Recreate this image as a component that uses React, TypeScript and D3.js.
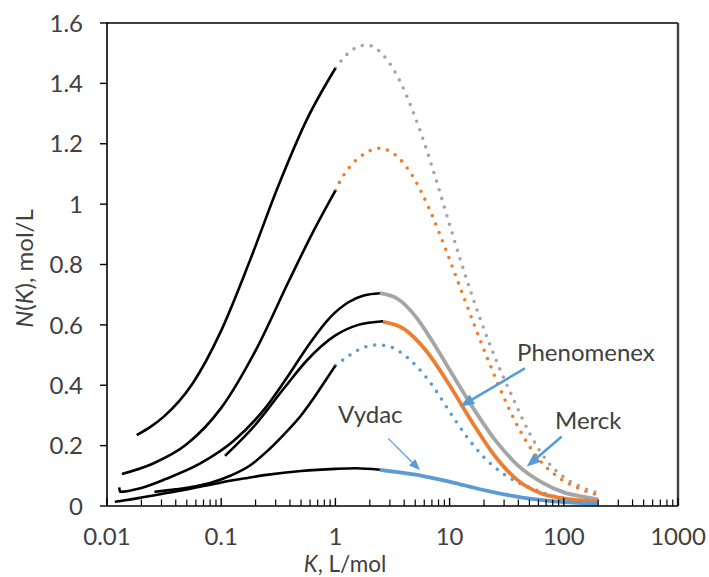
import React from "react";
import * as d3 from "d3";

type P = [number, number];

// black (measured) segments
const curveA: P[] = [[0.0182,0.235],[0.024,0.262],[0.0316,0.297],[0.0562,0.406],[0.1,0.581],[0.178,0.812],[0.316,1.06],[0.562,1.28],[1,1.45]];
const curveB: P[] = [[0.0135,0.106],[0.0251,0.14],[0.0501,0.205],[0.1,0.325],[0.2,0.515],[0.398,0.751],[0.631,0.905],[1,1.045]];
const curveC: P[] = [[0.0128,0.062],[0.013,0.047],[0.02,0.06],[0.033,0.09],[0.065,0.14],[0.128,0.215],[0.25,0.33],[0.4,0.44],[0.6,0.54],[0.9,0.625],[1.3,0.675],[1.8,0.698],[2.45,0.705]];
const curveD: P[] = [[0.108,0.166],[0.2,0.27],[0.355,0.39],[0.562,0.482],[1,0.565],[1.585,0.6],[2.62,0.612]];
const curveF: P[] = [[0.026,0.047],[0.04,0.055],[0.06,0.065],[0.08,0.076],[0.12,0.1],[0.18,0.135],[0.25,0.18],[0.35,0.235],[0.5,0.3],[0.64,0.355],[0.8,0.41],[1.0,0.465]];
const curveE: P[] = [[0.0117,0.014],[0.015,0.02],[0.02,0.028],[0.03,0.04],[0.047,0.053],[0.07,0.066],[0.1,0.078],[0.17,0.093],[0.25,0.103],[0.5,0.116],[1,0.123],[1.5,0.125],[2.45,0.12]];

// fitted extensions
const grayDotted: P[] = [[1,1.45],[1.34,1.505],[1.88,1.527],[2.62,1.494],[3.3,1.44],[3.9,1.387],[4.6,1.322],[5.4,1.253],[6.2,1.187],[7,1.125],[7.95,1.058],[8.9,0.996],[10.1,0.927],[11.3,0.866],[12.7,0.804],[14.3,0.744],[18.5,0.621],[26,0.476],[36.4,0.352],[50.6,0.238],[70.9,0.15],[105,0.09],[146,0.061],[200,0.043]];
const orangeDotted: P[] = [[1,1.045],[1.06,1.065],[1.34,1.124],[1.82,1.168],[2.4,1.185],[3.65,1.15],[4.67,1.097],[5.7,1.038],[6.7,0.981],[7.9,0.916],[9.1,0.857],[10.5,0.795],[12,0.737],[16.1,0.609],[22.7,0.466],[31.6,0.339],[44,0.232],[61.8,0.151],[92,0.092],[138,0.057],[200,0.036]];
const blueDotted: P[] = [[1,0.465],[1.3,0.497],[1.6,0.518],[2.24,0.533],[2.7,0.532],[3.65,0.511],[5.2,0.461],[7.2,0.395],[10.1,0.31],[14.1,0.23],[19.8,0.163],[27.8,0.114],[38.7,0.08],[54,0.057],[75,0.036],[105,0.025],[200,0.011]];
const graySolid: P[] = [[2.45,0.705],[3.55,0.685],[5.01,0.629],[7.08,0.545],[10,0.451],[15.85,0.328],[25.1,0.218],[39.8,0.134],[63.1,0.08],[100,0.045],[150,0.03],[200,0.022]];
const orangeSolid: P[] = [[2.62,0.61],[3.98,0.587],[6.31,0.512],[10,0.4],[15.85,0.276],[25.1,0.164],[39.8,0.084],[63,0.042],[100,0.025],[200,0.0145]];
const blueSolid: P[] = [[2.45,0.12],[5.2,0.103],[10.1,0.08],[19.8,0.053],[38.7,0.031],[75,0.017],[200,0.007]];

const xTickValues = [0.01, 0.1, 1, 10, 100, 1000];
const xTickLabels = ["0.01", "0.1", "1", "10", "100", "1000"];
const yTickValues = [0, 0.2, 0.4, 0.6, 0.8, 1, 1.2, 1.4, 1.6];
const yTickLabels = ["0", "0.2", "0.4", "0.6", "0.8", "1", "1.2", "1.4", "1.6"];

// annotations (data coordinates)
const annLabels = ["Phenomenex", "Merck", "Vydac"];
const annText: P[] = [[39, 0.48], [83.8, 0.255], [1.054, 0.275]];
const annTail: P[] = [[45.7, 0.456], [95.9, 0.23], [2.9, 0.224]];
const annTip: P[] = [[12.4, 0.33], [47.3, 0.13], [5.5, 0.119]];
const annWidth = [2.6, 2.6, 1.3];

const GRAY = "#A5A5A5";
const ORANGE = "#ED7D31";
const BLUE = "#5B9BD5";
const TEXT = "#404040";
const FONT = "Lato, 'Open Sans', sans-serif";

export default function App() {
  const W = 709, H = 577;
  const left = 107, right = 678, top = 23, bottom = 506;
  const x = d3.scaleLog().domain([0.01, 1000]).range([left, right]);
  const y = d3.scaleLinear().domain([0, 1.6]).range([bottom, top]);
  const line = d3.line<P>().x(d => x(d[0])).y(d => y(d[1])).curve(d3.curveMonotoneX);

  const minorTicks: number[] = [];
  for (let dec = -2; dec < 3; dec++) {
    for (let m = 2; m <= 9; m++) minorTicks.push(m * Math.pow(10, dec));
  }

  const blacks = [curveA, curveB, curveC, curveD, curveF, curveE];
  const dotted: [P[], string][] = [[grayDotted, GRAY], [orangeDotted, ORANGE], [blueDotted, BLUE]];
  const solids: [P[], string][] = [[graySolid, GRAY], [orangeSolid, ORANGE], [blueSolid, BLUE]];

  return (
    <div style={{ position: "absolute", left: 0, top: 0 }}>
      <svg width={W} height={H} viewBox={`0 0 ${W} ${H}`} style={{ display: "block", background: "#fff" }} fontFamily={FONT}>
        <rect x={0} y={0} width={W} height={H} fill="#fff" />
        <line x1={left} x2={right} y1={top} y2={top} stroke="#404040" strokeWidth={1.8} />
        <line x1={right} x2={right} y1={top} y2={bottom} stroke="#404040" strokeWidth={2.4} />

        {dotted.map(([d, c], i) => (
          <path key={"dt" + i} d={line(d) || ""} fill="none" stroke={c} strokeWidth={3.6} strokeLinecap="round" strokeDasharray="0 9" />
        ))}
        {solids.map(([d, c], i) => (
          <path key={"sl" + i} d={line(d) || ""} fill="none" stroke={c} strokeWidth={3.8} strokeLinecap="butt" />
        ))}
        {blacks.map((d, i) => (
          <path key={"bk" + i} d={line(d) || ""} fill="none" stroke="#000" strokeWidth={2.6} strokeLinecap="butt" />
        ))}

        <line x1={left} x2={left} y1={top - 0.9} y2={bottom} stroke="#000" strokeWidth={1.6} />
        <line x1={left} x2={right} y1={bottom} y2={bottom} stroke="#000" strokeWidth={1.6} />
        {yTickValues.map((v, i) => (
          <g key={"yt" + i}>
            <line x1={left - 7} x2={left} y1={y(v)} y2={y(v)} stroke="#000" strokeWidth={1.4} />
            <text x={83} y={y(v)} dy="0.36em" textAnchor="end" fontSize={24} fill={TEXT}>{yTickLabels[i]}</text>
          </g>
        ))}
        {xTickValues.map((v, i) => (
          <g key={"xt" + i}>
            <line x1={x(v)} x2={x(v)} y1={bottom} y2={bottom - 8} stroke="#000" strokeWidth={1.4} />
            <text x={x(v)} y={544.6} textAnchor="middle" fontSize={24} fill={TEXT}>{xTickLabels[i]}</text>
          </g>
        ))}
        {minorTicks.map((v, i) => (
          <line key={"mt" + i} x1={x(v)} x2={x(v)} y1={bottom} y2={bottom - 6.5} stroke="#000" strokeWidth={1.2} />
        ))}

        <text x={345} y={572} textAnchor="middle" fontSize={22.5} fill={TEXT}>
          <tspan fontStyle="italic">K</tspan>, L/mol
        </text>
        <text transform={`translate(33, ${(top + bottom) / 2 + 4}) rotate(-90)`} textAnchor="middle" fontSize={24} fill={TEXT}>
          <tspan fontStyle="italic">N</tspan>(<tspan fontStyle="italic">K</tspan>), mol/L
        </text>

        {annLabels.map((lab, i) => {
          const x1 = x(annTail[i][0]), y1 = y(annTail[i][1]);
          const x2 = x(annTip[i][0]), y2 = y(annTip[i][1]);
          const ang = Math.atan2(y2 - y1, x2 - x1);
          const hl = annWidth[i] > 2 ? 14 : 11;
          const hw = annWidth[i] > 2 ? 5.5 : 4.5;
          const bx = x2 - hl * Math.cos(ang), by = y2 - hl * Math.sin(ang);
          const px = -Math.sin(ang), py = Math.cos(ang);
          const head = `M${x2},${y2} L${bx + px * hw},${by + py * hw} L${bx - px * hw},${by - py * hw} Z`;
          return (
            <g key={"an" + i}>
              <line x1={x1} y1={y1} x2={bx + Math.cos(ang)} y2={by + Math.sin(ang)} stroke={BLUE} strokeWidth={annWidth[i]} />
              <path d={head} fill={BLUE} />
              <text x={x(annText[i][0])} y={y(annText[i][1])} fontSize={24} fill={TEXT}>{lab}</text>
            </g>
          );
        })}
      </svg>
    </div>
  );
}
